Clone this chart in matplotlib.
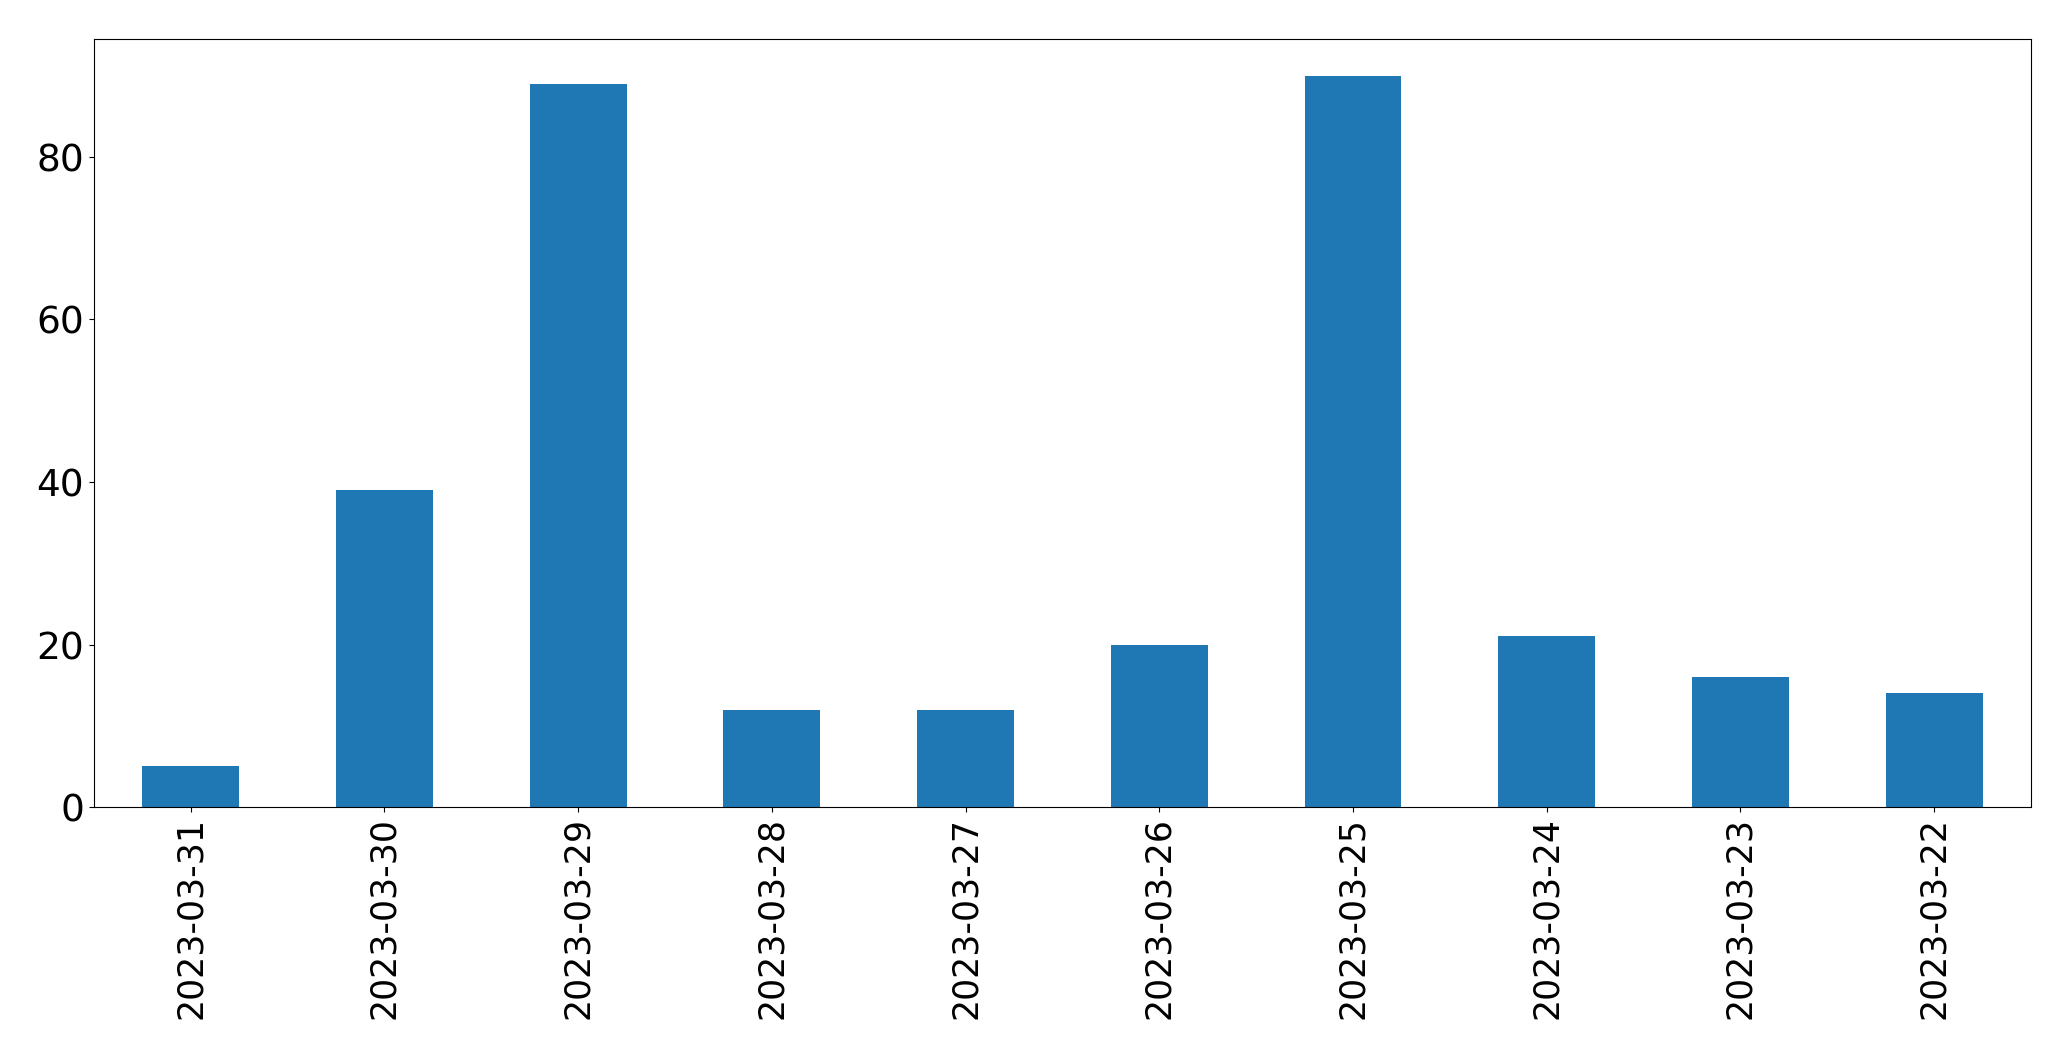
import matplotlib
matplotlib.use("Agg")
import matplotlib.pyplot as plt

dates = ["2023-03-31", "2023-03-30", "2023-03-29", "2023-03-28", "2023-03-27",
         "2023-03-26", "2023-03-25", "2023-03-24", "2023-03-23", "2023-03-22"]
counts = [5, 39, 89, 12, 12, 20, 90, 21, 16, 14]

fig = plt.figure(figsize=(20.71, 10.605), dpi=100)
ax = fig.add_axes([0.0453, 0.2385, 0.9354, 0.7242])
x = list(range(len(dates)))
ax.bar(x, counts, width=0.5, color="#1f77b4")
ax.set_xlim(-0.5, len(dates) - 0.5)
ax.set_ylim(0, max(counts) * 1.05)
ax.set_xticks(x)
ax.set_xticklabels(dates, rotation=90)
ax.set_yticks([0, 20, 40, 60, 80])
ax.tick_params(axis="y", labelsize=27)
ax.tick_params(axis="x", labelsize=25)
fig.savefig("out.png", dpi=100)
